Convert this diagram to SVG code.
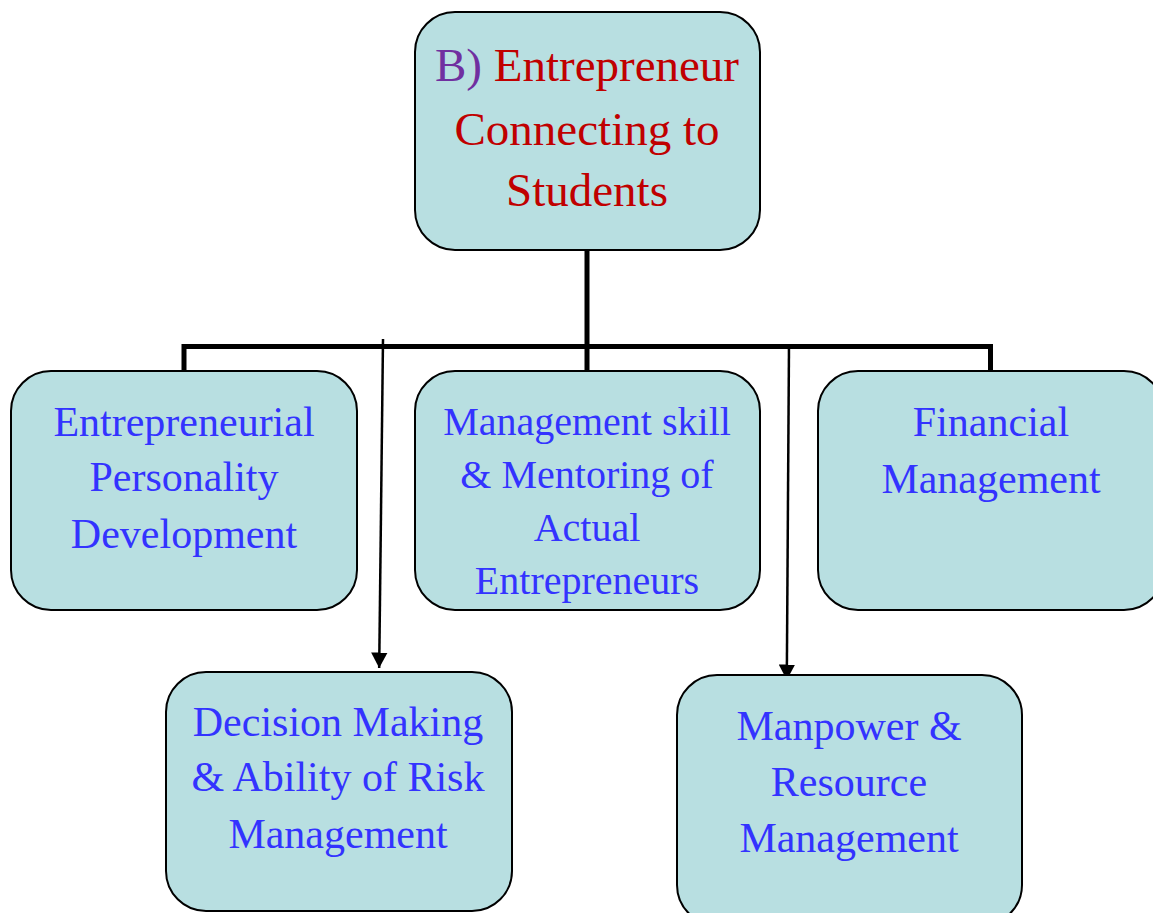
<svg xmlns="http://www.w3.org/2000/svg" width="1153" height="913" viewBox="0 0 1153 913">
<style>
.box{fill:#b8dfe1;stroke:#000;stroke-width:2}
.t{font-family:"Liberation Serif","Times New Roman",serif;text-anchor:middle}
.blue{fill:#3333ff;font-size:42px}
.mid{font-size:40px}
.red{fill:#c00000;font-size:47px}
.pur{fill:#7030a0}
.thick{stroke:#000;stroke-width:5;fill:none}
.thin{stroke:#000;stroke-width:2.5;fill:none}
</style>
<defs>
<marker id="ah" markerWidth="6.4" markerHeight="6.6" refX="6.2" refY="3.3" orient="auto" markerUnits="strokeWidth">
<path d="M0,0 L6.2,3.3 L0,6.6 Z" fill="#000"/>
</marker>
</defs>
<rect width="1153" height="913" fill="#fff"/>
<g id="connectors">
<path class="thick" d="M587,250 V346.5 M184,371 V346.5 H990.5 V371 M587,346.5 V371"/>
<path class="thin" d="M383,339 L379.2,668" marker-end="url(#ah)"/>
<path class="thin" d="M789,344 L786.8,680" marker-end="url(#ah)"/>
</g>
<g id="root">
<rect class="box" x="415" y="12" width="345" height="238" rx="40"/>
<text class="t red" x="587" y="81"><tspan class="pur">B)</tspan> Entrepreneur</text>
<text class="t red" x="587" y="145">Connecting to</text>
<text class="t red" x="587" y="206">Students</text>
</g>
<g id="n1">
<rect class="box" x="11" y="371" width="346" height="239" rx="40"/>
<text class="t blue" x="184" y="436">Entrepreneurial</text>
<text class="t blue" x="184" y="491">Personality</text>
<text class="t blue" x="184" y="548">Development</text>
</g>
<g id="n2">
<rect class="box" x="415" y="371" width="345" height="239" rx="40"/>
<text class="t blue mid" x="587" y="435">Management skill</text>
<text class="t blue mid" x="587" y="488">&amp; Mentoring of</text>
<text class="t blue mid" x="587" y="541">Actual</text>
<text class="t blue mid" x="587" y="594">Entrepreneurs</text>
</g>
<g id="n3">
<rect class="box" x="818" y="371" width="346" height="239" rx="40"/>
<text class="t blue" x="991" y="436">Financial</text>
<text class="t blue" x="991" y="493">Management</text>
</g>
<g id="n4">
<rect class="box" x="166" y="672" width="346" height="239" rx="40"/>
<text class="t blue" x="338" y="736">Decision Making</text>
<text class="t blue" x="338" y="791">&amp; Ability of Risk</text>
<text class="t blue" x="338" y="848">Management</text>
</g>
<g id="n5">
<rect class="box" x="677" y="675" width="345" height="250" rx="40"/>
<text class="t blue" x="849" y="740">Manpower &amp;</text>
<text class="t blue" x="849" y="796">Resource</text>
<text class="t blue" x="849" y="852">Management</text>
</g>
</svg>
